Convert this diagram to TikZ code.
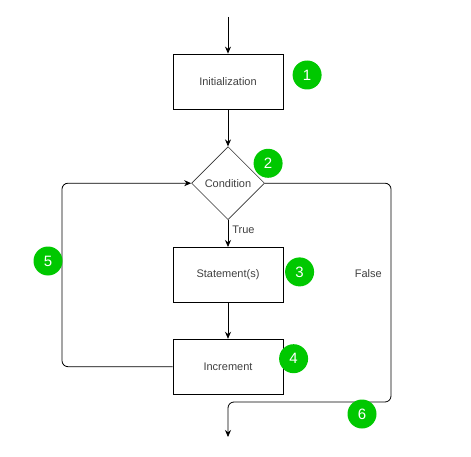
\documentclass[tikz,border=0pt]{standalone}
\usepackage{fontspec}
\setmainfont{Liberation Sans}
\usetikzlibrary{arrows.meta,positioning,shapes.geometric}

\begin{document}
\begin{tikzpicture}[
  x=1pt, y=1pt,
  node distance=27pt and 10pt,
  box/.style={rectangle, draw, line width=0.8pt, minimum width=110pt, minimum height=55pt, inner sep=2pt, text=black!75, font=\fontsize{11pt}{13pt}\selectfont},
  cond/.style={diamond, draw, line width=0.6pt, draw=black!80, minimum width=73pt, minimum height=73pt, inner sep=0pt, text=black!75, font=\fontsize{11pt}{13pt}\selectfont},
  badge/.style={circle, fill={rgb,255:red,0;green,200;blue,0}, text=white, minimum size=29pt, inner sep=0pt, font=\fontsize{15pt}{17pt}\selectfont},
  lbl/.style={text=black!75, inner sep=2pt, font=\fontsize{11pt}{13pt}\selectfont},
  >={Stealth[length=7pt, width=6pt]},
  every edge/.style={draw, line width=0.8pt, ->}
]
\useasboundingbox (0,0) rectangle (471,-457);

% Main column
\node[box] (INIT) at (228,-81.5) {Initialization};
\node[cond, below=37pt of INIT] (COND) {Condition};
\node[box, below=27pt of COND] (STMT) {Statement(s)};
\node[box, below=36pt of STMT] (INC) {Increment};

% Free ends and bends
\coordinate (START) at (228,-17);
\coordinate (EXIT) at (228,-437);
\coordinate (LOOP) at (62,-275);
\coordinate (RIGHT) at (391,-402);

% Edges
\path (START) edge (INIT);
\path (INIT) edge (COND);
\path (COND) edge node[lbl, right, pos=0.35, xshift=2pt] (TRUE) {True} (STMT);
\path (STMT) edge (INC);
\draw[->, line width=0.8pt, rounded corners=6pt] (INC.west) -| (LOOP) |- (COND.west);
\draw[->, line width=0.8pt, rounded corners=6pt] (COND.east) -| (RIGHT) -| (EXIT);
\node[lbl, left=7pt of RIGHT, yshift=128pt] (FALSE) {False};

% Numbered badges
\node[badge, right=9pt of INIT, yshift=6.5pt] (B1) {1};
\node[badge, right=7pt of COND.north east, yshift=1.5pt] (B2) {2};
\node[badge, right=1.5pt of STMT, yshift=3pt] (B3) {3};
\node[badge, right=-4.5pt of INC, yshift=8pt] (B4) {4};
\node[badge] (B5) at (48,-261) {5};
\node[badge] (B6) at (362,-414) {6};

\end{tikzpicture}
\end{document}
